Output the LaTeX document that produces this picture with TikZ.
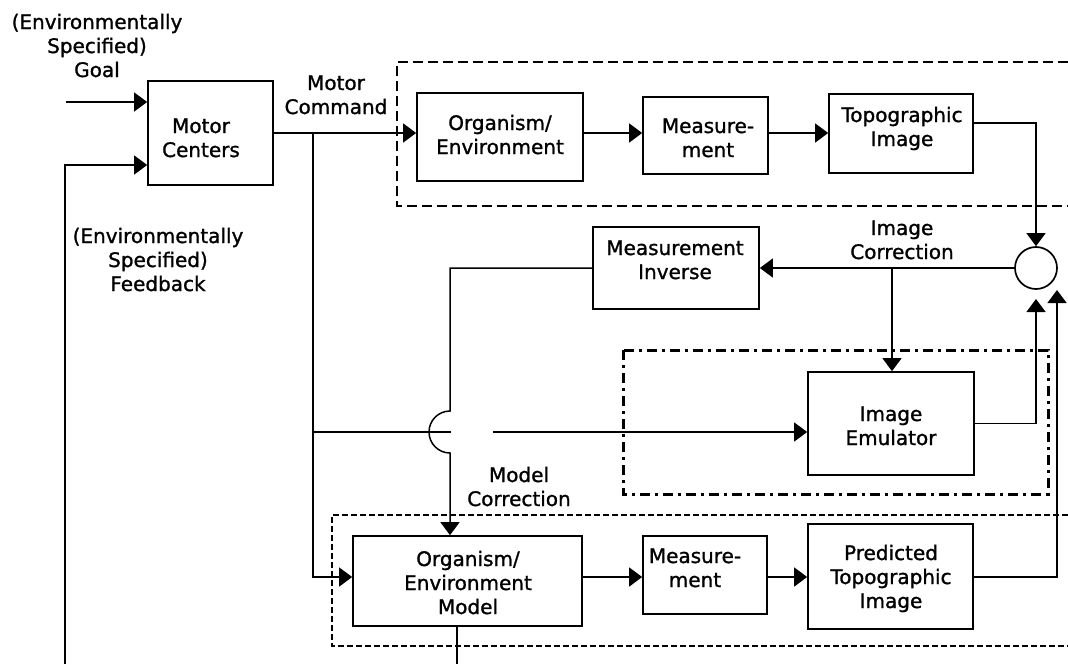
\documentclass[tikz,border=0pt]{standalone}
\usepackage{fontspec}
\setmainfont{DejaVu Sans}[FakeBold=1.2]
\usetikzlibrary{arrows.meta}
\newcommand{\mlines}[1]{\begin{tabular}[t]{@{}c@{}}#1\end{tabular}}
\begin{document}
\begin{tikzpicture}[x=1pt,y=-1pt,
  box/.style={draw, line width=1.7pt, rectangle, inner sep=0pt, fill=white},
  txt/.style={anchor=base, inner sep=0pt, font=\fontsize{20}{24}\selectfont},
  conn/.style={line width=1.5pt},
  arr/.style={line width=1.5pt, -{Triangle[length=13pt,width=19pt]}},
  dashbox/.style={line width=1.4pt, dash pattern=on 10pt off 5pt},
  finedash/.style={line width=1.3pt, dash pattern=on 6pt off 3pt},
  dashdotbox/.style={line width=3pt, dash pattern=on 10pt off 5pt on 3pt off 5pt}
]
\useasboundingbox (0,0) rectangle (1068,664);

% frames
\draw[dashbox] (1068,62) -- (397,62) -- (397,206) -- (1068,206);
\draw[finedash] (1068,515) -- (332,515) -- (332,646) -- (1068,646);
\draw[dashdotbox] (623,350) rectangle (1048,494);

% boxes
\node[box, minimum width=125pt, minimum height=104pt] (mc) at (210.5,133) {};
\node[box, minimum width=166pt, minimum height=88pt] (org) at (500,137) {};
\node[box, minimum width=125pt, minimum height=77pt] (meas) at (705.5,135.5) {};
\node[box, minimum width=144pt, minimum height=79pt] (topo) at (901,133.5) {};
\node[box, minimum width=166pt, minimum height=82pt] (mi) at (676,268) {};
\node[box, minimum width=166pt, minimum height=103pt] (em) at (891,423.5) {};
\node[box, minimum width=229pt, minimum height=90pt] (om) at (467.5,581) {};
\node[box, minimum width=124pt, minimum height=78pt] (meas2) at (705,575) {};
\node[box, minimum width=165pt, minimum height=105pt] (pred) at (890.5,576.5) {};
\node[draw, circle, line width=1.7pt, minimum size=42pt, inner sep=0pt] (sum) at (1036,268) {};

% box texts
\node[txt] (tmc) at (201,133) {\mlines{Motor\\Centers}};
\node[txt] (torg) at (500,130) {\mlines{Organism/\\Environment}};
\node[txt] (tmeas) at (708,133) {\mlines{Measure-\\ment}};
\node[txt] (ttopo) at (902,122) {\mlines{Topographic\\Image}};
\node[txt] (tmi) at (675,255) {\mlines{Measurement\\Inverse}};
\node[txt] (tem) at (891,421) {\mlines{Image\\Emulator}};
\node[txt] (tom) at (468,566) {\mlines{Organism/\\Environment\\Model}};
\node[txt] (tmeas2) at (695,563) {\mlines{Measure-\\ment}};
\node[txt] (tpred) at (891,560) {\mlines{Predicted\\Topographic\\Image}};

% labels
\node[txt] (lgoal) at (97,29) {\mlines{(Environmentally\\Specified)\\Goal}};
\node[txt] (lfb) at (158,243) {\mlines{(Environmentally\\Specified)\\Feedback}};
\node[txt] (lmc) at (336,90) {\mlines{Motor\\Command}};
\node[txt] (lic) at (902,235) {\mlines{Image\\Correction}};
\node[txt] (lmodc) at (519,482) {\mlines{Model\\Correction}};

% coordinates
\coordinate (g0) at (66,102);
\coordinate (f0) at (65,664);
\coordinate (f1) at (65,165);
\coordinate (j1) at (313,133);
\coordinate (j2) at (313,577);
\coordinate (j3) at (313,432);
\coordinate (h1) at (451,432);
\coordinate (h2) at (493,432);
\coordinate (t1) at (1036,123);
\coordinate (ic) at (892,268);
\coordinate (m1) at (450,268);
\coordinate (m2) at (450,411);
\coordinate (e1) at (1036,422);
\coordinate (e2) at (1036,299);
\coordinate (p1) at (1057,577);
\coordinate (p2) at (1057,290);
\coordinate (o1) at (457,664);

% connectors
\draw[arr] (g0) -- (g0 -| mc.west);
\draw[arr] (f0) -- (f1) -- (f1 -| mc.west);
\draw[arr] (mc.east) -- (mc.east -| org.west);
\draw[arr] (j1) -- (j2) -- (j2 -| om.west);
\draw[conn] (j3) -- (h1);
\draw[arr] (h2) -- (h2 -| em.west);
\draw[arr] (j1 -| org.east) -- (j1 -| meas.west);
\draw[arr] (j1 -| meas.east) -- (j1 -| topo.west);
\draw[arr] (t1 -| topo.east) -- (t1) -- (sum.north);
\draw[arr] (sum.west) -- (mi.east);
\draw[arr] (ic) -- (ic |- em.north);
\draw[arr] (mi.west) -- (m1) -- (m2) arc[start angle=270, end angle=90, radius=21] -- (m2 |- om.north);
\draw[arr] (em.east) -- (em.east -| e1) -- (e2);
\draw[arr] (j2 -| om.east) -- (j2 -| meas2.west);
\draw[arr] (j2 -| meas2.east) -- (j2 -| pred.west);
\draw[arr] (p1 -| pred.east) -- (p1) -- (p2);
\draw[conn] (o1 |- om.south) -- (o1);
\end{tikzpicture}
\end{document}
